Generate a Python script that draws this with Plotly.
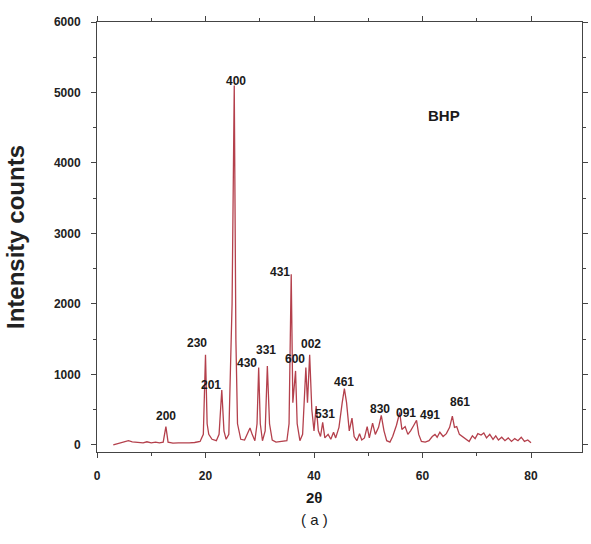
import plotly.graph_objects as go

# XRD pattern (2theta, intensity)
two_theta = [
    3.0, 4.0, 5.0, 5.8, 6.5, 7.5, 8.5, 9.2, 10.0, 10.8, 11.5, 12.2, 12.7, 13.1,
    14.0, 15.0, 16.0, 17.0, 18.0, 19.0, 19.6, 20.0, 20.3, 20.6, 21.2, 22.0, 22.5,
    23.0, 23.4, 23.8, 24.3, 24.9, 25.3, 25.6, 25.9, 26.5, 27.2, 27.8, 28.2, 28.6,
    29.1, 29.5, 29.8, 30.1, 30.5, 31.0, 31.4, 31.8, 32.3, 33.0, 34.0, 35.0, 35.4,
    35.8, 36.1, 36.6, 36.9, 37.4, 37.9, 38.5, 38.8, 39.2, 39.6, 40.0, 40.4, 40.8,
    41.2, 41.6, 42.0, 42.6, 43.1, 43.6, 44.0, 44.6, 45.2, 45.6, 46.0, 46.5, 47.0,
    47.4, 47.9, 48.4, 48.8, 49.3, 49.8, 50.2, 50.8, 51.3, 51.9, 52.4, 52.9, 53.4,
    54.0, 54.5, 55.2, 55.8, 56.2, 56.8, 57.3, 57.8, 58.4, 58.9, 59.3, 59.8, 60.5,
    61.2, 61.8, 62.3, 62.7, 63.2, 63.8, 64.4, 65.0, 65.5, 65.9, 66.3, 66.8, 67.4,
    68.0, 68.6, 69.2, 69.7, 70.2, 70.8, 71.3, 71.8, 72.4, 73.0, 73.5, 74.0, 74.6,
    75.2, 75.8, 76.4, 77.0, 77.6, 78.2, 78.8, 79.4, 80.0,
]
intensity = [
    0, 20, 50, 60, 45, 40, 30, 45, 30, 40, 30, 40, 260, 40,
    25, 30, 25, 30, 35, 50, 150, 1280, 300, 150, 80, 60, 150,
    780, 200, 80, 150, 2000, 5100, 1500, 300, 80, 70, 180, 240, 150,
    60, 300, 1100, 300, 60, 200, 1120, 300, 70, 40, 50, 60, 300,
    2420, 600, 1050, 300, 60, 150, 1100, 600, 1280, 500, 200, 550, 200,
    120, 320, 100, 150, 80, 180, 100, 250, 600, 800, 600, 200, 380,
    120, 60, 160, 70, 100, 260, 100, 310, 150, 250, 420, 200, 60,
    40, 120, 280, 460, 220, 260, 150, 200, 280, 350, 150, 50, 40,
    60, 120, 150, 110, 180, 120, 160, 250, 410, 250, 260, 150, 120,
    80, 50, 130, 90, 160, 140, 170, 100, 150, 80, 130, 70, 110,
    60, 100, 50, 90, 60, 110, 50, 70, 30,
]

# Peak (hkl) labels and their anchor positions
peak_labels = ["200", "230", "201", "400", "430", "331", "431", "600", "002",
               "531", "461", "830", "091", "491", "861"]
label_x = [12.7, 18.5, 21.1, 25.6, 27.6, 31.1, 33.8, 36.5, 39.5,
           42.0, 45.6, 52.2, 56.9, 61.3, 66.9]
label_y = [411, 1447, 851, 5160, 1163, 1348, 2454, 1220, 1433,
           440, 894, 510, 454, 426, 610]

x_ticks = [0, 20, 40, 60, 80]
y_ticks = [0, 1000, 2000, 3000, 4000, 5000, 6000]

FONT = "Liberation Sans, Arial"

fig = go.Figure()
fig.add_trace(go.Scatter(
    x=two_theta, y=intensity, mode="lines",
    line=dict(color="#b4404c", width=1.3),
    showlegend=False,
))

for t, xx, yy in zip(peak_labels, label_x, label_y):
    fig.add_annotation(x=xx, y=yy, text=t, showarrow=False,
                       font=dict(family=FONT, size=12, color="#1a1a1a", weight="bold"),
                       xanchor="center", yanchor="middle")

fig.add_annotation(x=64.0, y=4680, text="BHP", showarrow=False,
                   font=dict(family=FONT, size=15, color="#1a1a1a", weight="bold"))

fig.add_annotation(xref="paper", yref="paper", x=0.448, y=-0.105, text="<b>2θ</b>",
                   showarrow=False, yanchor="middle",
                   font=dict(family=FONT, size=15, color="#1a1a1a"))
fig.add_annotation(xref="paper", yref="paper", x=0.448, y=-0.158, text="( a )",
                   showarrow=False, yanchor="middle",
                   font=dict(family=FONT, size=15, color="#1a1a1a"))

axis_common = dict(
    showgrid=False, zeroline=False, showline=True, linecolor="#444", linewidth=1,
    mirror="ticks", ticks="outside", ticklen=5, tickcolor="#444", tickwidth=1,
    tickfont=dict(family=FONT, size=12, color="#222", weight="bold"),
)

fig.update_xaxes(range=[0, 89.4], tickvals=x_ticks, ticklabelstandoff=8,
                 minor=dict(ticks="outside", ticklen=3, dtick=10, tick0=0, tickcolor="#444"),
                 **axis_common)
fig.update_yaxes(range=[-100, 6000], tickvals=y_ticks, ticklabelstandoff=8,
                 minor=dict(ticks="outside", ticklen=3, dtick=500, tick0=0, tickcolor="#444"),
                 title=dict(text="Intensity counts", standoff=22,
                            font=dict(family=FONT, size=24, color="#222", weight="bold")),
                 **axis_common)

fig.update_layout(
    width=591, height=544,
    margin=dict(l=97, r=3, t=22, b=92),
    plot_bgcolor="white", paper_bgcolor="white",
)

fig.write_html("out.html")
